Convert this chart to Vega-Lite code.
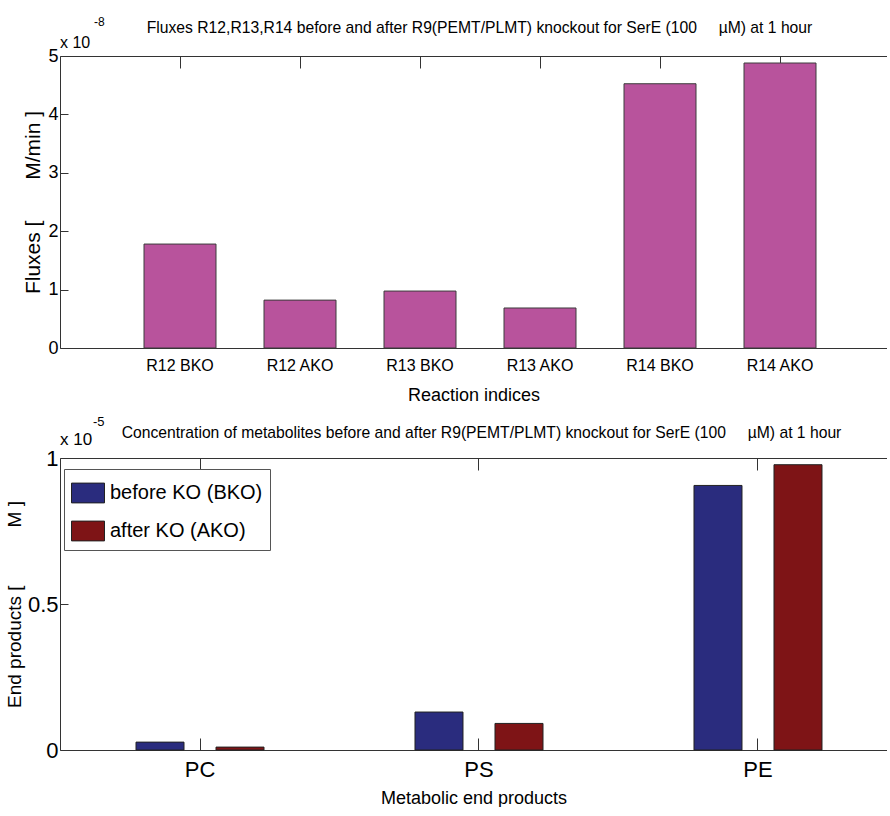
{
  "$schema": "https://vega.github.io/schema/vega-lite/v6.json",
  "padding": {"left": 5, "top": 16, "right": 0, "bottom": 0},
  "background": "white",
  "spacing": 12,
  "config": {
    "view": {"stroke": null},
    "font": "Liberation Sans, sans-serif",
    "axis": {"labelColor": "#000", "titleColor": "#000", "domainColor": "#333", "tickColor": "#333", "grid": false, "titleFontWeight": "normal", "labelFont": "Liberation Sans, sans-serif", "titleFont": "Liberation Sans, sans-serif"},
    "title": {"color": "#000", "fontWeight": "normal", "font": "Liberation Sans, sans-serif"}
  },
  "vconcat": [
    {
      "width": 827,
      "height": 292,
      "title": {"text": "Fluxes R12,R13,R14 before and after R9(PEMT/PLMT) knockout for SerE (100\u00a0\u00a0\u00a0\u00a0 µM) at 1 hour", "fontSize": 15.7, "dx": 6, "dy": 25},
      "data": {"values": [
        {"reaction": "R12 BKO", "flux": 1.78e-8},
        {"reaction": "R12 AKO", "flux": 0.82e-8},
        {"reaction": "R13 BKO", "flux": 0.975e-8},
        {"reaction": "R13 AKO", "flux": 0.685e-8},
        {"reaction": "R14 BKO", "flux": 4.525e-8},
        {"reaction": "R14 AKO", "flux": 4.88e-8}
      ]},
      "layer": [
        {
          "mark": {"type": "bar", "fill": "#b8539c", "stroke": "#3c3c3c", "strokeWidth": 1},
          "encoding": {
            "x": {"field": "reaction", "type": "nominal", "sort": null, "title": "Reaction indices",
              "scale": {"paddingInner": 0.4, "paddingOuter": 0.6458, "align": 0.542},
              "axis": {"orient": "bottom", "labelAngle": 0, "ticks": false, "labelFontSize": 16, "labelPadding": 9, "titleFontSize": 18, "titlePadding": 13}},
            "y": {"field": "flux", "type": "quantitative", "title": "Fluxes [\u00a0\u00a0\u00a0\u00a0\u00a0\u00a0 M/min ]",
              "scale": {"domain": [0, 5e-8], "nice": false},
              "axis": {"values": [0, 1e-8, 2e-8, 3e-8, 4e-8, 5e-8], "labelExpr": "format(datum.value*1e8,'~g')", "tickSize": -8, "labelPadding": 10, "labelFontSize": 18, "titleFontSize": 21, "titlePadding": 4}}
          }
        },
        {
          "mark": {"type": "bar", "opacity": 0},
          "encoding": {
            "x": {"field": "reaction", "type": "nominal", "sort": null,
              "axis": {"orient": "top", "labels": false, "title": null, "tickSize": -12}}
          }
        },
        {
          "data": {"values": [{"label": "x 10", "power": "-8"}]},
          "mark": {"type": "text", "align": "left", "baseline": "alphabetic", "fontSize": 16, "dx": 0, "dy": -8},
          "encoding": {"x": {"value": 0}, "y": {"datum": 5e-8}, "text": {"field": "label"}}
        },
        {
          "data": {"values": [{"label": "x 10", "power": "-8"}]},
          "mark": {"type": "text", "align": "left", "baseline": "alphabetic", "fontSize": 12, "dx": 34, "dy": -30},
          "encoding": {"x": {"value": 0}, "y": {"datum": 5e-8}, "text": {"field": "power"}}
        }
      ],
      "resolve": {"axis": {"x": "independent"}}
    },
    {
      "width": 827,
      "height": 292,
      "title": {"text": "Concentration of metabolites before and after R9(PEMT/PLMT) knockout for SerE (100\u00a0\u00a0\u00a0\u00a0 µM) at 1 hour", "fontSize": 15.7, "dx": 8, "dy": 30},
      "data": {"values": [
        {"product": "PC", "condition": "before KO (BKO)", "value": 0.027e-5},
        {"product": "PC", "condition": "after KO (AKO)", "value": 0.010e-5},
        {"product": "PS", "condition": "before KO (BKO)", "value": 0.130e-5},
        {"product": "PS", "condition": "after KO (AKO)", "value": 0.091e-5},
        {"product": "PE", "condition": "before KO (BKO)", "value": 0.906e-5},
        {"product": "PE", "condition": "after KO (AKO)", "value": 0.977e-5}
      ]},
      "layer": [
        {
          "mark": {"type": "bar", "stroke": "#222", "strokeWidth": 1},
          "encoding": {
            "x": {"field": "product", "type": "nominal", "sort": ["PC", "PS", "PE"], "title": "Metabolic end products",
              "scale": {"paddingInner": 0.5412, "paddingOuter": 0.2527, "align": 0.539},
              "axis": {"orient": "bottom", "labelAngle": 0, "tickSize": -12, "labelFontSize": 22, "labelPadding": 21, "titleFontSize": 18, "titlePadding": 9}},
            "xOffset": {"field": "condition", "type": "nominal", "sort": ["before KO (BKO)", "after KO (AKO)"],
              "scale": {"paddingInner": 0.4, "paddingOuter": 0}},
            "y": {"field": "value", "type": "quantitative", "title": "End products [\u00a0\u00a0\u00a0\u00a0\u00a0\u00a0\u00a0\u00a0\u00a0\u00a0 M ]",
              "scale": {"domain": [0, 1e-5], "nice": false},
              "axis": {"values": [0, 0.5e-5, 1e-5], "labelExpr": "format(datum.value*1e5,'~g')", "tickSize": -8, "labelPadding": 10, "labelFontSize": 22, "titleFontSize": 19, "titlePadding": 3}},
            "color": {"field": "condition", "type": "nominal", "sort": ["before KO (BKO)", "after KO (AKO)"],
              "scale": {"range": ["#2a2c7e", "#7e1416"]},
              "legend": {"title": null, "orient": "none", "legendX": 4, "legendY": 413, "symbolType": "M-1,-0.6H1V0.6H-1Z", "symbolSize": 1089, "symbolStrokeColor": "#222", "symbolStrokeWidth": 1, "symbolOpacity": 1, "labelFontSize": 20, "labelLimit": 400, "labelColor": "#000", "labelOffset": 5, "padding": 7, "rowPadding": 9, "strokeColor": "#555", "fillColor": "white"}}
          }
        },
        {
          "mark": {"type": "bar", "opacity": 0},
          "encoding": {
            "x": {"field": "product", "type": "nominal", "sort": ["PC", "PS", "PE"],
              "axis": {"orient": "top", "labels": false, "title": null, "tickSize": -12}}
          }
        },
        {
          "data": {"values": [{"label": "x 10", "power": "-5"}]},
          "mark": {"type": "text", "align": "left", "baseline": "alphabetic", "fontSize": 17, "dx": 0, "dy": -13},
          "encoding": {"x": {"value": 0}, "y": {"datum": 1e-5}, "text": {"field": "label"}}
        },
        {
          "data": {"values": [{"label": "x 10", "power": "-5"}]},
          "mark": {"type": "text", "align": "left", "baseline": "alphabetic", "fontSize": 13, "dx": 33, "dy": -32},
          "encoding": {"x": {"value": 0}, "y": {"datum": 1e-5}, "text": {"field": "power"}}
        }
      ],
      "resolve": {"axis": {"x": "independent"}}
    }
  ]
}
